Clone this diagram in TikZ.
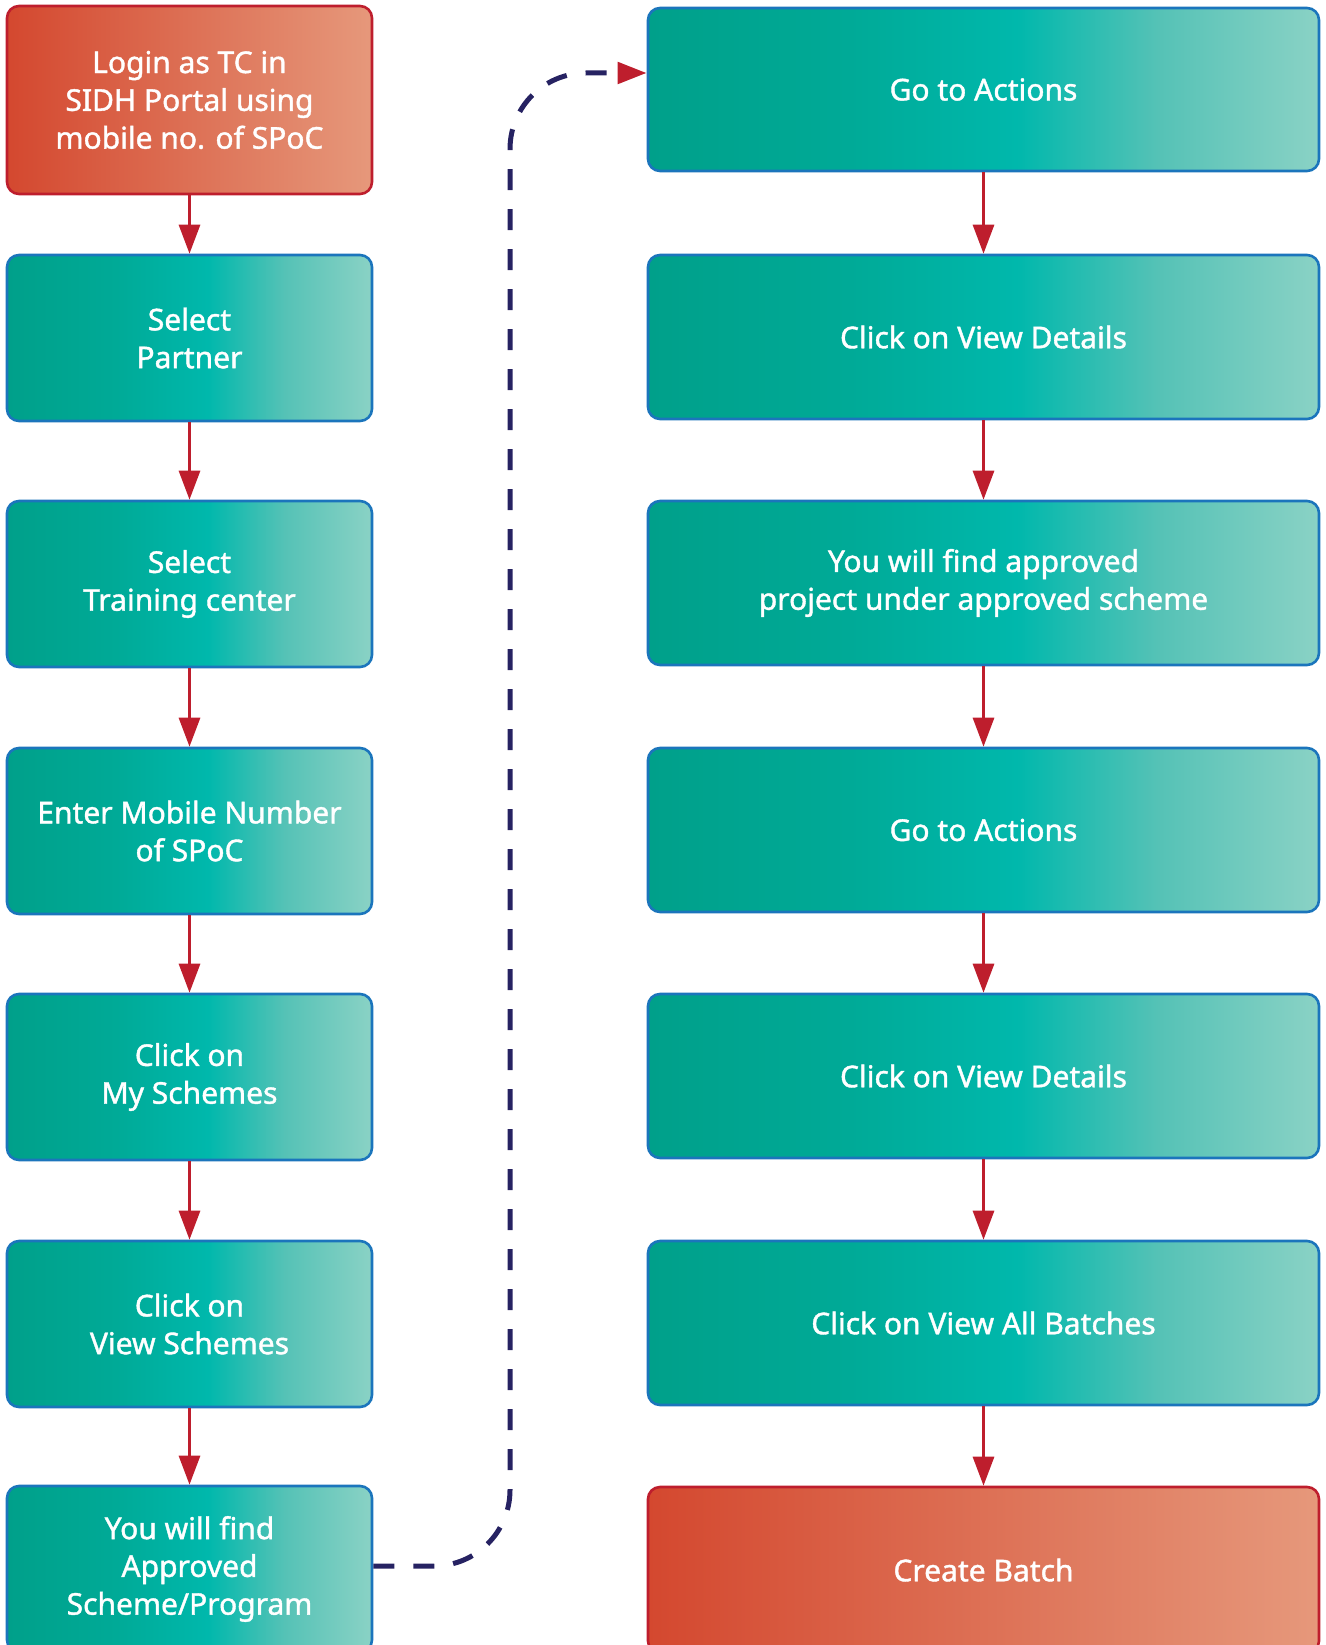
\documentclass[tikz,border=0pt]{standalone}
\usepackage{fontspec}
\setmainfont{Noto Sans}
\newfontfamily\boxfont{Noto Sans}[FakeBold=1.3]
\usetikzlibrary{arrows.meta}
\definecolor{tealdark}{HTML}{00A08A}
\definecolor{tealdarkb}{HTML}{00AA97}
\definecolor{tealmid}{HTML}{00B8AC}
\definecolor{teallightb}{HTML}{55C2B6}
\definecolor{teallight}{HTML}{8AD2C5}
\definecolor{borderblue}{HTML}{1B75BC}
\definecolor{reddark}{HTML}{D4482F}
\definecolor{redlight}{HTML}{E6987B}
\definecolor{arrowred}{HTML}{BE1E2D}
\definecolor{navy}{HTML}{262262}
\pgfdeclarehorizontalshading{tealshade}{100bp}{color(0bp)=(tealdark); color(25bp)=(tealdark); color(40bp)=(tealdarkb); color(52.5bp)=(tealmid); color(63bp)=(teallightb); color(75bp)=(teallight); color(100bp)=(teallight)}
\tikzset{
  flowbox/.style={rectangle, rounded corners=12pt, line width=2.6pt, text=white,
    align=center, inner sep=0pt,
    font=\boxfont\fontsize{30}{37.8}\selectfont},
  tealbox/.style={flowbox, draw=borderblue, shading=tealshade, shading angle=0},
  redbox/.style={flowbox, draw=arrowred, left color=reddark, right color=redlight},
  leftbox/.style={minimum width=365pt, minimum height=166pt},
  rightbox/.style={minimum width=671pt, minimum height=164pt},
  flowarrow/.style={draw=arrowred, line width=3pt, -{Triangle[length=29pt,width=21pt,fill=arrowred]}},
  dashlink/.style={draw=navy, line width=5pt, dash pattern=on 21pt off 19pt, rounded corners=76pt,
    -{Triangle[length=29pt,width=21pt,color=arrowred,fill=arrowred]}}
}
\begin{document}
\begin{tikzpicture}[x=1pt,y=1pt]
\useasboundingbox (0,0) rectangle (1325,-1645);
% left column
\node[redbox, leftbox, minimum height=188pt] (L1) at (189.5,-100) {Login as TC in\\SIDH Portal using\\mobile no. of SPoC};
\node[tealbox, leftbox] (L2) at (189.5,-338) {Select\\Partner};
\node[tealbox, leftbox] (L3) at (189.5,-584) {Select\\Training center};
\node[tealbox, leftbox] (L4) at (189.5,-831) {Enter Mobile Number\\of SPoC};
\node[tealbox, leftbox] (L5) at (189.5,-1077) {Click on\\My Schemes};
\node[tealbox, leftbox] (L6) at (189.5,-1324) {Click on\\View Schemes};
\node[tealbox, leftbox] (L7) at (189.5,-1569) {You will find\\Approved\\Scheme/Program};
% right column
\node[tealbox, rightbox, minimum height=163pt] (R1) at (983.5,-89.5) {Go to Actions};
\node[tealbox, rightbox] (R2) at (983.5,-337) {Click on View Details};
\node[tealbox, rightbox] (R3) at (983.5,-583) {You will find approved\\project under approved scheme};
\node[tealbox, rightbox] (R4) at (983.5,-830) {Go to Actions};
\node[tealbox, rightbox] (R5) at (983.5,-1076) {Click on View Details};
\node[tealbox, rightbox] (R6) at (983.5,-1323) {Click on View All Batches};
\node[redbox, rightbox, minimum height=166pt] (R7) at (983.5,-1570) {Create Batch};
% arrows
\foreach \a/\b in {L1/L2,L2/L3,L3/L4,L4/L5,L5/L6,L6/L7,R1/R2,R2/R3,R3/R4,R4/R5,R5/R6,R6/R7}
  \draw[flowarrow] (\a.south) -- (\b.north);
% dashed link
\draw[dashlink] ([yshift=3pt]L7.east) -- (510,-1566) -- (510,-73) -- ([yshift=16.5pt]R1.west);
\end{tikzpicture}
\end{document}
